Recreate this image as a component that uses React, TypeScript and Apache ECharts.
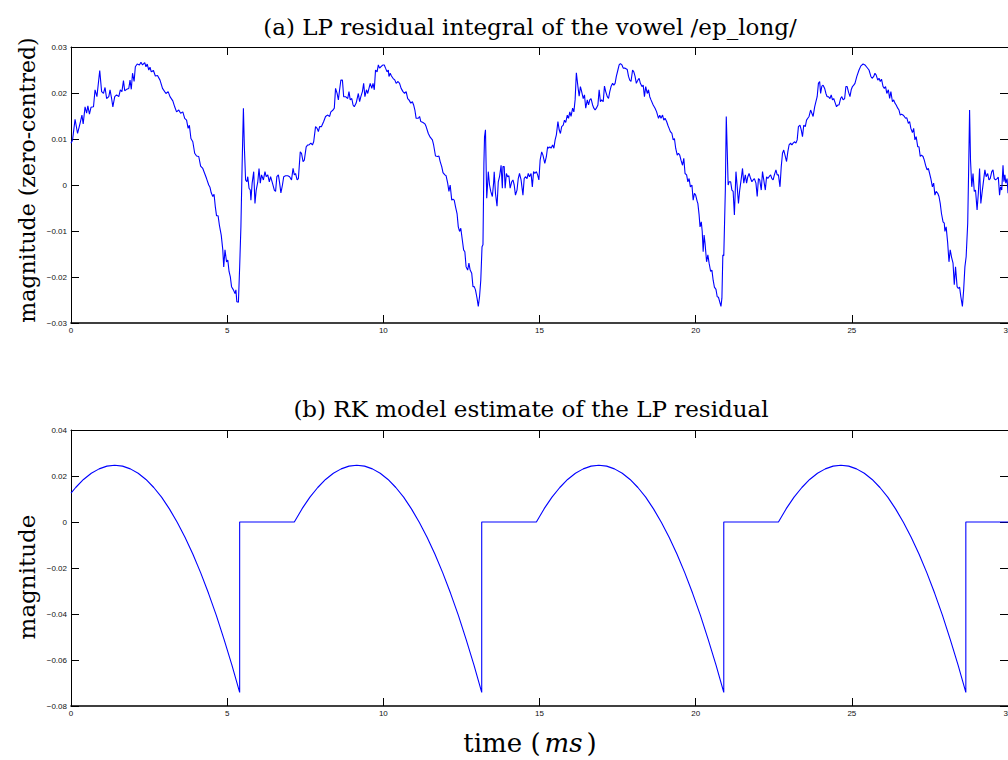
import React, { useEffect, useRef } from "react";
import * as echarts from "echarts";

// (a) LP residual integral — [time ms, magnitude]
const lpResidualIntegral: [number, number][] = [
  [0.00, 0.0091], [0.05, 0.0098], [0.13, 0.0143], [0.21, 0.0112], [0.29, 0.0134], [0.35, 0.0152], [0.39, 0.0133],
  [0.45, 0.0170], [0.50, 0.0156], [0.54, 0.0172], [0.59, 0.0154], [0.64, 0.0169], [0.72, 0.0170], [0.77, 0.0207],
  [0.83, 0.0192], [0.92, 0.0249], [0.98, 0.0203], [1.04, 0.0199], [1.09, 0.0212], [1.14, 0.0188], [1.21, 0.0192],
  [1.25, 0.0207], [1.30, 0.0188], [1.34, 0.0170], [1.40, 0.0192], [1.46, 0.0196], [1.53, 0.0192], [1.58, 0.0207],
  [1.63, 0.0203], [1.68, 0.0227], [1.72, 0.0205], [1.78, 0.0208], [1.85, 0.0210], [1.89, 0.0228], [1.93, 0.0208],
  [1.97, 0.0243], [2.02, 0.0225], [2.06, 0.0257], [2.12, 0.0263], [2.19, 0.0261], [2.24, 0.0267], [2.29, 0.0261],
  [2.36, 0.0266], [2.40, 0.0257], [2.44, 0.0263], [2.49, 0.0250], [2.53, 0.0256], [2.57, 0.0246], [2.64, 0.0249],
  [2.70, 0.0237], [2.77, 0.0238], [2.85, 0.0228], [2.93, 0.0210], [3.04, 0.0199], [3.11, 0.0203], [3.17, 0.0192],
  [3.26, 0.0183], [3.32, 0.0170], [3.38, 0.0159], [3.45, 0.0163], [3.51, 0.0156], [3.58, 0.0159], [3.64, 0.0145],
  [3.70, 0.0141], [3.75, 0.0123], [3.79, 0.0130], [3.84, 0.0101], [3.90, 0.0094], [3.96, 0.0069], [4.02, 0.0063],
  [4.09, 0.0062], [4.15, 0.0041], [4.22, 0.0036], [4.28, 0.0025], [4.34, 0.0014], [4.41, 0.0000], [4.45, -0.0005],
  [4.49, -0.0017], [4.54, -0.0025], [4.58, -0.0020], [4.62, -0.0047], [4.66, -0.0067], [4.71, -0.0067], [4.75, -0.0087],
  [4.78, -0.0098], [4.81, -0.0109], [4.86, -0.0141], [4.89, -0.0178], [4.93, -0.0141], [4.98, -0.0167], [5.02, -0.0163],
  [5.06, -0.0188], [5.10, -0.0199], [5.14, -0.0221], [5.20, -0.0228], [5.25, -0.0236], [5.28, -0.0228], [5.31, -0.0254],
  [5.36, -0.0255], [5.40, -0.0178], [5.44, -0.0091], [5.48, 0.0047], [5.52, 0.0167], [5.55, 0.0083], [5.59, 0.0011],
  [5.63, 0.0007], [5.66, 0.0018], [5.70, -0.0007], [5.74, -0.0011], [5.76, -0.0033], [5.80, 0.0004], [5.85, 0.0029],
  [5.89, -0.0040], [5.93, -0.0011], [5.98, 0.0007], [6.02, 0.0036], [6.06, 0.0004], [6.10, 0.0022], [6.16, 0.0011],
  [6.21, 0.0029], [6.25, 0.0018], [6.30, 0.0022], [6.35, 0.0007], [6.39, 0.0018], [6.45, 0.0004], [6.51, -0.0011],
  [6.55, -0.0014], [6.59, 0.0018], [6.64, 0.0022], [6.68, 0.0004], [6.72, -0.0017], [6.77, 0.0000], [6.81, 0.0018],
  [6.87, 0.0020], [6.94, 0.0020], [7.00, 0.0018], [7.06, 0.0011], [7.11, 0.0036], [7.15, 0.0022], [7.19, 0.0025],
  [7.24, 0.0011], [7.28, 0.0014], [7.34, 0.0072], [7.38, 0.0069], [7.43, 0.0051], [7.47, 0.0054], [7.53, 0.0083],
  [7.58, 0.0087], [7.62, 0.0087], [7.68, 0.0091], [7.73, 0.0087], [7.77, 0.0094], [7.83, 0.0127], [7.88, 0.0123],
  [7.92, 0.0116], [7.96, 0.0127], [8.02, 0.0127], [8.09, 0.0138], [8.15, 0.0149], [8.22, 0.0152], [8.28, 0.0149],
  [8.32, 0.0159], [8.39, 0.0163], [8.43, 0.0167], [8.47, 0.0210], [8.52, 0.0199], [8.56, 0.0185], [8.60, 0.0207],
  [8.64, 0.0228], [8.69, 0.0228], [8.73, 0.0192], [8.79, 0.0192], [8.86, 0.0188], [8.90, 0.0203], [8.94, 0.0185],
  [8.99, 0.0188], [9.03, 0.0174], [9.07, 0.0170], [9.13, 0.0178], [9.20, 0.0199], [9.24, 0.0181], [9.28, 0.0192],
  [9.33, 0.0203], [9.37, 0.0221], [9.41, 0.0192], [9.46, 0.0207], [9.50, 0.0199], [9.54, 0.0210], [9.58, 0.0221],
  [9.63, 0.0210], [9.67, 0.0221], [9.71, 0.0207], [9.75, 0.0250], [9.80, 0.0246], [9.84, 0.0261], [9.88, 0.0254],
  [9.92, 0.0257], [9.99, 0.0261], [10.03, 0.0261], [10.07, 0.0254], [10.12, 0.0246], [10.16, 0.0250], [10.18, 0.0236],
  [10.22, 0.0243], [10.26, 0.0237], [10.31, 0.0232], [10.37, 0.0228], [10.41, 0.0221], [10.47, 0.0225], [10.52, 0.0221],
  [10.57, 0.0210], [10.63, 0.0203], [10.68, 0.0199], [10.73, 0.0203], [10.78, 0.0188], [10.82, 0.0185], [10.88, 0.0178],
  [10.93, 0.0181], [10.97, 0.0174], [11.01, 0.0163], [11.05, 0.0145], [11.12, 0.0145], [11.16, 0.0149], [11.20, 0.0138],
  [11.27, 0.0136], [11.33, 0.0133], [11.37, 0.0127], [11.44, 0.0112], [11.50, 0.0104], [11.57, 0.0098], [11.61, 0.0087],
  [11.67, 0.0063], [11.74, 0.0062], [11.78, 0.0063], [11.82, 0.0051], [11.87, 0.0040], [11.91, 0.0027], [11.97, 0.0022],
  [12.01, 0.0020], [12.06, 0.0004], [12.10, -0.0014], [12.14, 0.0000], [12.19, -0.0033], [12.23, -0.0031], [12.27, -0.0033],
  [12.31, -0.0047], [12.36, -0.0062], [12.40, -0.0091], [12.44, -0.0101], [12.48, -0.0094], [12.53, -0.0120], [12.57, -0.0141],
  [12.61, -0.0145], [12.65, -0.0178], [12.70, -0.0185], [12.74, -0.0170], [12.78, -0.0185], [12.83, -0.0192], [12.87, -0.0221],
  [12.91, -0.0221], [12.95, -0.0228], [13.00, -0.0246], [13.04, -0.0264], [13.08, -0.0243], [13.12, -0.0207], [13.16, -0.0134],
  [13.19, -0.0130], [13.22, 0.0047], [13.24, 0.0105], [13.27, 0.0120], [13.31, -0.0029], [13.34, 0.0004], [13.36, 0.0029],
  [13.40, 0.0000], [13.44, -0.0014], [13.49, -0.0025], [13.53, 0.0004], [13.55, 0.0029], [13.59, -0.0018], [13.64, -0.0046],
  [13.68, 0.0007], [13.72, 0.0018], [13.77, 0.0043], [13.81, -0.0007], [13.83, 0.0040], [13.87, 0.0040], [13.90, -0.0007],
  [13.94, 0.0025], [13.98, 0.0018], [14.02, 0.0020], [14.06, -0.0007], [14.11, 0.0007], [14.15, 0.0011], [14.19, 0.0000],
  [14.23, -0.0022], [14.28, -0.0011], [14.32, 0.0014], [14.36, 0.0025], [14.41, 0.0011], [14.47, -0.0022], [14.51, 0.0014],
  [14.55, 0.0018], [14.60, 0.0014], [14.64, 0.0025], [14.68, 0.0018], [14.73, 0.0025], [14.77, -0.0004], [14.81, 0.0029],
  [14.85, 0.0025], [14.90, 0.0029], [14.94, 0.0022], [14.98, 0.0011], [15.02, 0.0054], [15.07, 0.0072], [15.11, 0.0065],
  [15.17, 0.0047], [15.22, 0.0062], [15.26, 0.0083], [15.29, 0.0080], [15.33, 0.0083], [15.37, 0.0080], [15.42, 0.0087],
  [15.46, 0.0080], [15.50, 0.0098], [15.54, 0.0109], [15.59, 0.0138], [15.63, 0.0120], [15.67, 0.0112], [15.71, 0.0127],
  [15.76, 0.0130], [15.80, 0.0141], [15.84, 0.0136], [15.89, 0.0152], [15.93, 0.0145], [15.97, 0.0159], [16.01, 0.0149],
  [16.06, 0.0167], [16.10, 0.0159], [16.14, 0.0185], [16.18, 0.0244], [16.23, 0.0214], [16.27, 0.0193], [16.31, 0.0214],
  [16.35, 0.0203], [16.40, 0.0188], [16.44, 0.0196], [16.48, 0.0167], [16.53, 0.0185], [16.57, 0.0174], [16.61, 0.0185],
  [16.65, 0.0188], [16.70, 0.0174], [16.74, 0.0167], [16.78, 0.0163], [16.82, 0.0167], [16.87, 0.0174], [16.91, 0.0207],
  [16.95, 0.0181], [16.99, 0.0185], [17.04, 0.0181], [17.08, 0.0215], [17.12, 0.0203], [17.17, 0.0192], [17.21, 0.0188],
  [17.25, 0.0203], [17.29, 0.0214], [17.34, 0.0221], [17.38, 0.0217], [17.42, 0.0221], [17.46, 0.0236], [17.51, 0.0250],
  [17.55, 0.0261], [17.59, 0.0264], [17.64, 0.0261], [17.68, 0.0254], [17.74, 0.0254], [17.81, 0.0251], [17.85, 0.0236],
  [17.89, 0.0228], [17.93, 0.0225], [17.98, 0.0250], [18.02, 0.0246], [18.06, 0.0236], [18.10, 0.0221], [18.15, 0.0228],
  [18.19, 0.0232], [18.23, 0.0221], [18.28, 0.0214], [18.32, 0.0217], [18.36, 0.0192], [18.40, 0.0214], [18.45, 0.0199],
  [18.49, 0.0207], [18.53, 0.0192], [18.57, 0.0185], [18.64, 0.0174], [18.70, 0.0167], [18.75, 0.0159], [18.81, 0.0145],
  [18.85, 0.0152], [18.89, 0.0145], [18.94, 0.0152], [18.98, 0.0141], [19.02, 0.0145], [19.07, 0.0138], [19.11, 0.0130],
  [19.15, 0.0123], [19.19, 0.0116], [19.24, 0.0112], [19.28, 0.0098], [19.32, 0.0101], [19.36, 0.0080], [19.41, 0.0065],
  [19.45, 0.0069], [19.49, 0.0065], [19.53, 0.0054], [19.58, 0.0043], [19.62, 0.0058], [19.66, 0.0025], [19.71, 0.0022],
  [19.75, 0.0007], [19.79, 0.0014], [19.83, -0.0004], [19.88, 0.0000], [19.92, -0.0033], [19.96, -0.0018], [20.00, -0.0022],
  [20.05, -0.0036], [20.07, -0.0040], [20.11, -0.0065], [20.14, -0.0091], [20.18, -0.0080], [20.21, -0.0101], [20.24, -0.0145],
  [20.27, -0.0109], [20.30, -0.0127], [20.35, -0.0167], [20.39, -0.0152], [20.43, -0.0170], [20.48, -0.0188], [20.52, -0.0185],
  [20.56, -0.0207], [20.60, -0.0222], [20.65, -0.0227], [20.69, -0.0243], [20.73, -0.0244], [20.77, -0.0254], [20.81, -0.0264],
  [20.84, -0.0246], [20.87, -0.0152], [20.90, -0.0154], [20.95, -0.0011], [20.98, 0.0149], [21.01, 0.0076], [21.04, 0.0000],
  [21.07, 0.0007], [21.12, 0.0007], [21.16, -0.0011], [21.20, -0.0014], [21.24, -0.0065], [21.29, 0.0029], [21.33, -0.0004],
  [21.37, -0.0040], [21.41, -0.0011], [21.46, 0.0014], [21.50, 0.0036], [21.54, 0.0004], [21.59, 0.0022], [21.63, 0.0004],
  [21.67, 0.0018], [21.71, 0.0025], [21.76, 0.0014], [21.80, 0.0007], [21.84, 0.0011], [21.88, 0.0014], [21.93, 0.0004],
  [21.97, -0.0025], [22.01, 0.0014], [22.05, 0.0011], [22.10, -0.0011], [22.14, 0.0029], [22.18, 0.0011], [22.23, -0.0011],
  [22.27, 0.0018], [22.31, 0.0014], [22.35, 0.0018], [22.40, 0.0022], [22.44, 0.0014], [22.48, 0.0011], [22.52, 0.0022],
  [22.57, 0.0033], [22.61, 0.0022], [22.65, 0.0022], [22.70, -0.0004], [22.74, 0.0040], [22.78, 0.0069], [22.82, 0.0076],
  [22.87, 0.0062], [22.91, 0.0051], [22.95, 0.0072], [22.99, 0.0087], [23.04, 0.0091], [23.08, 0.0087], [23.12, 0.0091],
  [23.17, 0.0094], [23.21, 0.0091], [23.25, 0.0098], [23.29, 0.0127], [23.34, 0.0130], [23.38, 0.0120], [23.42, 0.0105],
  [23.46, 0.0130], [23.51, 0.0127], [23.55, 0.0141], [23.59, 0.0145], [23.63, 0.0149], [23.68, 0.0163], [23.72, 0.0156],
  [23.76, 0.0149], [23.81, 0.0170], [23.85, 0.0181], [23.89, 0.0192], [23.93, 0.0221], [23.97, 0.0225], [24.00, 0.0199],
  [24.04, 0.0215], [24.08, 0.0217], [24.13, 0.0210], [24.17, 0.0199], [24.21, 0.0192], [24.25, 0.0192], [24.30, 0.0188],
  [24.34, 0.0196], [24.38, 0.0185], [24.42, 0.0188], [24.47, 0.0178], [24.51, 0.0170], [24.55, 0.0174], [24.59, 0.0174],
  [24.64, 0.0188], [24.68, 0.0192], [24.72, 0.0185], [24.77, 0.0188], [24.81, 0.0214], [24.85, 0.0214], [24.89, 0.0203],
  [24.94, 0.0192], [24.98, 0.0207], [25.02, 0.0214], [25.06, 0.0217], [25.10, 0.0221], [25.16, 0.0236], [25.23, 0.0250],
  [25.29, 0.0259], [25.36, 0.0263], [25.42, 0.0261], [25.48, 0.0256], [25.55, 0.0250], [25.61, 0.0236], [25.65, 0.0232],
  [25.70, 0.0236], [25.74, 0.0243], [25.78, 0.0239], [25.83, 0.0228], [25.87, 0.0232], [25.91, 0.0225], [25.95, 0.0230],
  [26.00, 0.0214], [26.04, 0.0210], [26.08, 0.0214], [26.12, 0.0199], [26.17, 0.0207], [26.21, 0.0188], [26.25, 0.0203],
  [26.30, 0.0181], [26.34, 0.0185], [26.38, 0.0178], [26.42, 0.0174], [26.47, 0.0167], [26.51, 0.0163], [26.55, 0.0152],
  [26.59, 0.0154], [26.64, 0.0152], [26.68, 0.0149], [26.72, 0.0145], [26.76, 0.0146], [26.81, 0.0134], [26.85, 0.0138],
  [26.89, 0.0123], [26.94, 0.0114], [26.98, 0.0123], [27.02, 0.0098], [27.06, 0.0105], [27.11, 0.0083], [27.15, 0.0083],
  [27.19, 0.0062], [27.23, 0.0065], [27.28, 0.0062], [27.32, 0.0054], [27.36, 0.0043], [27.41, 0.0033], [27.45, 0.0036],
  [27.49, 0.0025], [27.53, 0.0014], [27.58, -0.0004], [27.62, 0.0004], [27.66, -0.0022], [27.70, -0.0014], [27.75, -0.0018],
  [27.79, -0.0025], [27.83, -0.0040], [27.87, -0.0062], [27.92, -0.0080], [27.96, -0.0083], [27.98, -0.0101], [28.02, -0.0091],
  [28.07, -0.0127], [28.11, -0.0167], [28.15, -0.0141], [28.19, -0.0156], [28.24, -0.0170], [28.28, -0.0217], [28.32, -0.0178],
  [28.37, -0.0221], [28.41, -0.0225], [28.45, -0.0222], [28.49, -0.0243], [28.54, -0.0264], [28.58, -0.0228], [28.62, -0.0178],
  [28.66, -0.0156], [28.71, -0.0083], [28.74, 0.0033], [28.77, 0.0163], [28.80, 0.0054], [28.84, -0.0004], [28.88, 0.0025],
  [28.92, -0.0014], [28.96, -0.0011], [29.01, -0.0054], [29.05, -0.0018], [29.09, 0.0036], [29.13, -0.0040], [29.18, -0.0011],
  [29.22, 0.0011], [29.26, 0.0033], [29.30, 0.0018], [29.35, 0.0025], [29.39, 0.0011], [29.43, 0.0014], [29.48, 0.0029],
  [29.52, 0.0033], [29.56, 0.0014], [29.60, 0.0011], [29.65, 0.0014], [29.69, 0.0017], [29.73, -0.0022], [29.76, -0.0004],
  [29.80, -0.0011], [29.84, 0.0043], [29.87, 0.0007], [29.90, 0.0022], [29.93, 0.0004], [29.97, 0.0014], [30.00, -0.0018],
];

// (b) RK model estimate — [time ms, magnitude]
const rkEstimate: [number, number][] = [
  [0.00, 0.0126], [0.15, 0.0150], [0.40, 0.0185], [0.65, 0.0212], [0.90, 0.0231], [1.15, 0.0243], [1.40, 0.0247],
  [1.65, 0.0243], [1.90, 0.0231], [2.15, 0.0212], [2.40, 0.0185], [2.65, 0.0150], [2.90, 0.0108], [3.15, 0.0057],
  [3.40, -0.0001], [3.65, -0.0066], [3.90, -0.0139], [4.15, -0.0220], [4.40, -0.0309], [4.65, -0.0405], [4.90, -0.0510],
  [5.15, -0.0621], [5.40, -0.0741], [5.40, 0], [7.15, 0],
  [7.40, 0.0058], [7.65, 0.0108], [7.90, 0.0150], [8.15, 0.0185], [8.40, 0.0212], [8.65, 0.0231], [8.90, 0.0243],
  [9.15, 0.0247], [9.40, 0.0243], [9.65, 0.0231], [9.90, 0.0212], [10.15, 0.0185], [10.40, 0.0150], [10.65, 0.0108],
  [10.90, 0.0057], [11.15, -0.0001], [11.40, -0.0066], [11.65, -0.0139], [11.90, -0.0220], [12.15, -0.0309],
  [12.40, -0.0405], [12.65, -0.0510], [12.90, -0.0621], [13.15, -0.0741], [13.15, 0], [14.90, 0],
  [15.15, 0.0058], [15.40, 0.0108], [15.65, 0.0150], [15.90, 0.0185], [16.15, 0.0212], [16.40, 0.0231], [16.65, 0.0243],
  [16.90, 0.0247], [17.15, 0.0243], [17.40, 0.0231], [17.65, 0.0212], [17.90, 0.0185], [18.15, 0.0150], [18.40, 0.0108],
  [18.65, 0.0057], [18.90, -0.0001], [19.15, -0.0066], [19.40, -0.0139], [19.65, -0.0220], [19.90, -0.0309],
  [20.15, -0.0405], [20.40, -0.0510], [20.65, -0.0621], [20.90, -0.0741], [20.90, 0], [22.65, 0],
  [22.90, 0.0058], [23.15, 0.0108], [23.40, 0.0150], [23.65, 0.0185], [23.90, 0.0212], [24.15, 0.0231], [24.40, 0.0243],
  [24.65, 0.0247], [24.90, 0.0243], [25.15, 0.0231], [25.40, 0.0212], [25.65, 0.0185], [25.90, 0.0150], [26.15, 0.0108],
  [26.40, 0.0057], [26.65, -0.0001], [26.90, -0.0066], [27.15, -0.0139], [27.40, -0.0220], [27.65, -0.0309],
  [27.90, -0.0405], [28.15, -0.0510], [28.40, -0.0621], [28.65, -0.0741], [28.65, 0], [30.00, 0],
];

const timeRange = [0, 30, 5]; // min, max, step (ms)
const topRange = [-0.03, 0.03, 0.01];
const bottomRange = [-0.08, 0.04, 0.02];

const titleA = "(a) LP residual integral of the vowel /ep_long/";
const titleB = "(b) RK model estimate of the LP residual";
const yNameA = "magnitude (zero-centred)";
const yNameB = "magnitude";

const SERIF = '"DejaVu Serif", "Liberation Serif", serif';
const SANS = '"Liberation Sans", Arial, sans-serif';

export default function App() {
  const ref = useRef<HTMLDivElement>(null);

  useEffect(() => {
    if (!ref.current) return;
    const chart = echarts.init(ref.current, undefined, { renderer: "svg" });

    const fmt = (v: number) => String(v).replace("-", "\u2212");
    const tick = { show: true, inside: true, length: 8, lineStyle: { color: "#000", width: 1 } };
    const gridAt = (top: number) => ({ left: 71, top, width: 937, height: 276, show: false });

    const xAx = (gridIndex: number, position: "bottom" | "top") => ({
      type: "value",
      gridIndex,
      position,
      min: timeRange[0],
      max: timeRange[1],
      interval: timeRange[2],
      axisLine: { show: true, onZero: false, lineStyle: { color: "#000", width: position === "bottom" ? 1.6 : 1 } },
      axisTick: tick,
      splitLine: { show: false },
      axisLabel: position === "bottom"
        ? { show: true, fontSize: 8, fontFamily: SANS, color: "#111", margin: 3, formatter: fmt }
        : { show: false },
    });
    const yAx = (gridIndex: number, position: "left" | "right", r: number[]) => ({
      type: "value",
      gridIndex,
      position,
      min: r[0],
      max: r[1],
      interval: r[2],
      axisLine: { show: true, onZero: false, lineStyle: { color: "#000", width: 1 } },
      axisTick: tick,
      splitLine: { show: false },
      axisLabel: position === "left"
        ? { show: true, fontSize: 8, fontFamily: SANS, color: "#111", margin: 4, formatter: fmt }
        : { show: false },
    });

    const textStyle = (text: string, size = 23) => ({
      text,
      fontSize: size,
      fontFamily: SERIF,
      fill: "#000",
      textAlign: "center",
      textVerticalAlign: "middle",
      align: "center",
      verticalAlign: "middle",
    });

    chart.setOption({
      animation: false,
      backgroundColor: "#fff",
      grid: [gridAt(47), gridAt(430)],
      xAxis: [xAx(0, "bottom"), xAx(0, "top"), xAx(1, "bottom"), xAx(1, "top")],
      yAxis: [
        yAx(0, "left", topRange),
        yAx(0, "right", topRange),
        yAx(1, "left", bottomRange),
        yAx(1, "right", bottomRange),
      ],
      series: [
        {
          type: "line",
          xAxisIndex: 0,
          yAxisIndex: 0,
          data: lpResidualIntegral,
          showSymbol: false,
          lineStyle: { color: "#0000ff", width: 1.1 },
        },
        {
          type: "line",
          xAxisIndex: 2,
          yAxisIndex: 2,
          data: rkEstimate,
          showSymbol: false,
          lineStyle: { color: "#0000ff", width: 1.1 },
        },
      ],
      graphic: [
        { type: "text", x: 530, y: 27, style: textStyle(titleA) },
        { type: "text", x: 531, y: 409, style: textStyle(titleB) },
        { type: "text", x: 27, y: 180, rotation: Math.PI / 2, style: textStyle(yNameA, 22) },
        { type: "text", x: 27, y: 577, rotation: Math.PI / 2, style: textStyle(yNameB, 23) },
        {
          type: "text",
          x: 530,
          y: 743,
          style: {
            text: "{n|time (}{i|ms}{n|)}",
            fill: "#000",
            textAlign: "center",
            textVerticalAlign: "middle",
            align: "center",
            verticalAlign: "middle",
            rich: {
              n: { fontSize: 26, fontFamily: SERIF, fill: "#000", color: "#000" },
              i: { fontSize: 26, fontFamily: SERIF, fontStyle: "italic", fill: "#000", color: "#000", padding: [0, 4, 0, 4] },
            },
          },
        },
      ],
    });

    return () => chart.dispose();
  }, []);

  return (
    <div
      style={{
        position: "fixed",
        left: 0,
        top: 0,
        width: 1008,
        height: 760,
        overflow: "hidden",
        background: "#fff",
      }}
    >
      <div ref={ref} style={{ width: 1040, height: 760 }} />
    </div>
  );
}
